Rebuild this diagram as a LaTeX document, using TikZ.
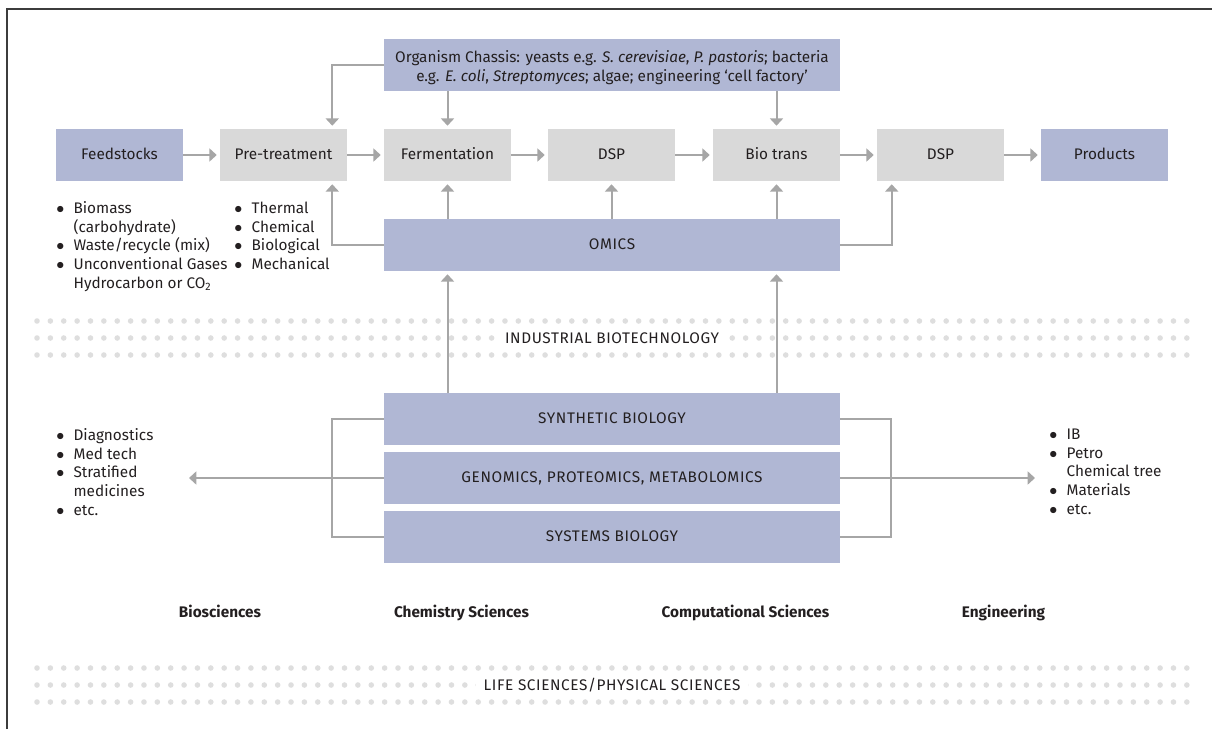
\documentclass[tikz,border=0pt]{standalone}
\usepackage{fontspec}
\setmainfont{Fira Sans}
\newfontfamily\capsfont[LetterSpace=4]{Fira Sans}
\usetikzlibrary{arrows.meta}

\definecolor{boxblue}{RGB}{176,183,212}
\definecolor{boxgrey}{RGB}{217,217,217}
\definecolor{linkgrey}{RGB}{166,166,166}
\definecolor{dotgrey}{RGB}{222,222,222}
\definecolor{framegrey}{RGB}{60,60,60}
\definecolor{inkdark}{RGB}{35,31,32}

\tikzset{
  boxbase/.style={minimum height=39pt, inner sep=0pt, text=inkdark,
    font=\fontsize{11.5}{14.25}\selectfont},
  stagebox/.style={boxbase, fill=boxgrey, minimum width=95.25pt,
    text height=7.9pt, text depth=1.5pt},
  keybox/.style={stagebox, fill=boxblue},
  widebox/.style={boxbase, fill=boxblue, minimum width=342pt, align=center},
  capsbox/.style={widebox, font=\capsfont\fontsize{11.5}{14}\selectfont,
    text height=7.9pt, text depth=1.5pt},
  link/.style={draw=linkgrey, line width=1.5pt,
    -{Triangle[length=5.5pt, width=9.75pt]}, shorten >=2.25pt},
  bracket/.style={draw=linkgrey, line width=1.5pt},
  itemlist/.style={anchor=north west, inner sep=0pt, text=inkdark,
    font=\fontsize{11.5}{14}\selectfont},
  fieldname/.style={anchor=base, text=inkdark,
    font=\bfseries\fontsize{11.5}{14}\selectfont},
  bandname/.style={fill=white, inner xsep=6pt, inner ysep=2pt, text=inkdark,
    font=\capsfont\fontsize{11.5}{14}\selectfont},
}

\newcommand{\bul}{$\bullet$}

\begin{document}
\begin{tikzpicture}[x=0.75pt, y=-0.75pt]
      \useasboundingbox (0,0) rectangle (1212,729);
      \draw[framegrey, line width=1.5pt] (7,729) -- (7,9) -- (1212,9); % frame
      %
      \foreach \r in {321,338,355,668,685,702}                 % dot bands
        \foreach \i in {0,...,86}
          \fill[dotgrey] ({37+13.37*\i},\r) circle[radius=2.1pt];
      %
      \node[bandname] (ibt) at (612,338) {INDUSTRIAL BIOTECHNOLOGY};
      \node[bandname] (lps) at (612,685) {LIFE SCIENCES/PHYSICAL SCIENCES};
      %
      \node[keybox]   (feed) at (119.5,155) {Feedstocks};    % process row
      \node[stagebox] (pre)  at (283.5,155) {Pre-treatment};
      \node[stagebox] (ferm) at (447.5,155) {Fermentation};
      \node[stagebox] (dspa) at (611.5,155) {DSP};
      \node[stagebox] (bio)  at (776.5,155) {Bio trans};
      \node[stagebox] (dspb) at (940.5,155) {DSP};
      \node[keybox]   (prod) at (1104.5,155) {Products};
      %
      \node[widebox] (chassis) at (612,65) {\rule{0pt}{13pt}Organism Chassis: yeasts e.g.
        \textit{S. cerevisiae}, \textit{P. pastoris}; bacteria\\
        e.g. \textit{E. coli}, \textit{Streptomyces}; algae; engineering ‘cell factory’};
      \node[capsbox] (omics) at (612,245) {OMICS};
      %
      \node[capsbox] (synbio) at (612,419) {SYNTHETIC BIOLOGY};  % core stack
      \node[capsbox] (gpm)    at (612,478) {GENOMICS, PROTEOMICS, METABOLOMICS};
      \node[capsbox] (sysbio) at (612,537) {SYSTEMS BIOLOGY};
      %
      \draw[link] (feed) -- (pre);                            % row arrows
      \draw[link] (pre)  -- (ferm);
      \draw[link] (ferm) -- (dspa);
      \draw[link] (dspa) -- (bio);
      \draw[link] (bio)  -- (dspb);
      \draw[link] (dspb) -- (prod);
      %
      \draw[link] (chassis.west) -| ([xshift=-11.25pt]pre.north east); % chassis
      \draw[link] (chassis.south -| ferm) -- (ferm.north);
      \draw[link] (chassis.south -| bio)  -- (bio.north);
      %
      \draw[link] (omics.west) -| ([xshift=-11.25pt]pre.south east);   % omics
      \draw[link] (omics.north -| ferm) -- (ferm.south);
      \draw[link] (omics.north -| dspa) -- (dspa.south);
      \draw[link] (omics.north -| bio)  -- (bio.south);
      \draw[link] (omics.east) -| ([xshift=11.25pt]dspb.south west);
      %
      \draw[link] (synbio.north -| ferm) -- (omics.south -| ferm);      % up
      \draw[link] (synbio.north -| bio)  -- (omics.south -| bio);
      %
      \draw[bracket] (synbio.west) -- ++(-52,0) |- (sysbio.west);        % brackets
      \draw[bracket] (synbio.east) -- ++(51,0)  |- (sysbio.east);
      \coordinate (bioout) at (186,478);
      \coordinate (engout) at (1038,478);
      \draw[link] (gpm.west) -- (bioout);
      \draw[link] (gpm.east) -- (engout);
      %
      \node[itemlist] (feedlist) at (56,200) {\begin{tabular}{@{}l@{\hspace{7pt}}l@{}}
        \bul & Biomass\\ & (carbohydrate)\\ \bul & Waste/recycle (mix)\\
        \bul & Unconventional Gases\\ & Hydrocarbon or CO\textsubscript{2}\end{tabular}};
      \node[itemlist] (prelist) at (234,200) {\begin{tabular}{@{}l@{\hspace{7pt}}l@{}}
        \bul & Thermal\\ \bul & Chemical\\ \bul & Biological\\ \bul & Mechanical\end{tabular}};
      \node[itemlist] (biolist) at (56,427) {\begin{tabular}{@{}l@{\hspace{7pt}}l@{}}
        \bul & Diagnostics\\ \bul & Med tech\\ \bul & Stratified\\ & medicines\\
        \bul & etc.\end{tabular}};
      \node[itemlist] (englist) at (1049,426) {\begin{tabular}{@{}l@{\hspace{7pt}}l@{}}
        \bul & IB\\ \bul & Petro\\ & Chemical tree\\ \bul & Materials\\
        \bul & etc.\end{tabular}};
      %
      \node[fieldname] (bsci) at (220,617)    {Biosciences};   % fields
      \node[fieldname] (csci) at (461.5,617)  {Chemistry Sciences};
      \node[fieldname] (comp) at (745.5,617)  {Computational Sciences};
      \node[fieldname] (engi) at (1003.5,617) {Engineering};
      %
    \end{tikzpicture}
\end{document}
